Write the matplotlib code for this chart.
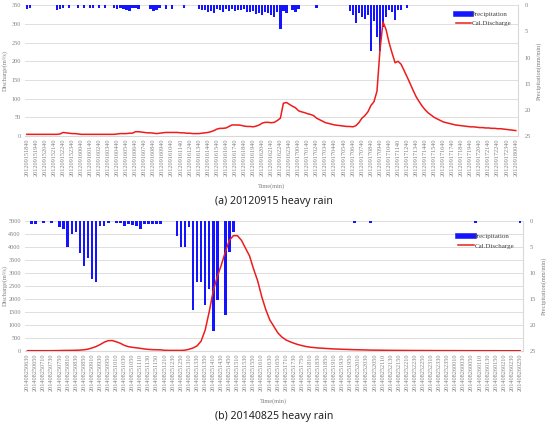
import matplotlib.pyplot as plt
from matplotlib.lines import Line2D
import numpy as np
import pandas as pd

# (a) 20120915 event, 20-min steps starting 2012-09-15 18:40
rain_a = [0.7, 0.5, 0, 0, 0, 0, 0, 0, 0, 0,
          1.0, 0.8, 0.5, 0, 0.6, 0, 0, 0.6, 0, 0.6,
          0, 0.6, 0.5, 0, 0.6, 0, 0.6, 0, 0, 0.6,
          0.7, 0.6, 0.7, 1.0, 1.1, 0.6, 0.6, 0.7, 0, 0,
          0, 0.7, 1.1, 0.9, 0.6, 0, 0.8, 0, 0.7, 0,
          0, 0, 0.6, 0, 0, 0, 0, 0.7, 0.9, 1.0,
          1.4, 1.2, 1.6, 0.8, 0.9, 1.3, 0.8, 1.1, 0.7, 1.2,
          0.9, 1.0, 0.8, 1.3, 1.4, 1.2, 1.7, 1.5, 1.9, 1.3,
          1.6, 1.8, 2.2, 1.4, 4.6, 1.2, 1.5, 0, 1.0, 1.3,
          0.8, 0, 0, 0, 0, 0, 0.5, 0, 0, 0,
          0, 0, 0, 0, 0, 0, 0, 1.2, 1.8, 3.5,
          1.5, 2.2, 2.6, 1.8, 8.7, 3.0, 6.1, 8.7, 4.2, 2.2,
          1.0, 1.3, 2.9, 1.0, 0.9, 0, 0.6, 0, 0, 0,
          0, 0, 0, 0, 0, 0, 0, 0, 0, 0,
          0, 0, 0, 0, 0, 0, 0, 0, 0, 0,
          0, 0, 0, 0, 0, 0, 0, 0, 0, 0,
          0, 0, 0]
flow_a = [5, 5, 5, 5, 5, 5, 5, 5, 5, 5, 5, 6,
          10, 9, 8, 7, 7, 6, 5, 5, 5, 5, 5, 5,
          5, 5, 5, 5, 5, 5, 6, 7, 7, 7, 8, 8,
          12, 12, 11, 10, 9, 9, 8, 7, 8, 9, 10, 10,
          10, 10, 10, 9, 9, 8, 8, 7, 7, 7, 8, 9,
          10, 12, 15, 19, 21, 21, 22, 26, 30, 30, 30, 29,
          27, 26, 26, 25, 27, 30, 35, 37, 37, 36, 37, 42,
          48, 88, 90, 85, 80, 76, 68, 65, 63, 60, 58, 55,
          48, 44, 40, 36, 34, 32, 30, 29, 28, 27, 26, 26,
          25, 28, 36, 48, 55, 65, 82, 92, 120, 230, 305, 285,
          250, 222, 196, 200, 192, 175, 158, 140, 122, 105, 92, 80,
          70, 62, 56, 50, 46, 42, 38, 36, 34, 32, 30, 29,
          28, 27, 26, 25, 25, 24, 23, 23, 22, 22, 21, 21,
          20, 20, 19, 18, 17, 16, 15]
ticks_a = pd.date_range('2012-09-15 18:40', '2012-09-18 00:40', freq='60min').strftime('%Y%m%d%H%M')

# (b) 20140825 event, 10-min steps starting 2014-08-25 06:30
rain_b = [0, 0.6, 0.6, 0, 0.5, 0, 0.5, 0, 1.1, 1.5,
          5.1, 2.6, 2.1, 6.1, 8.6, 7.1, 11.2, 11.7, 1.0, 1.0,
          0.5, 0, 0.5, 0.5, 1.0, 0.6, 0.9, 1.0, 1.5, 0.6,
          0.6, 0.6, 0.6, 0.6, 0, 0, 0, 3.0, 5.1, 5.1,
          1.1, 17.1, 11.7, 11.7, 16.2, 13.1, 21.2, 15.2, 0, 18.1,
          6.0, 2.1, 0, 0, 0, 0, 0, 0, 0, 0,
          0, 0, 0, 0, 0, 0, 0, 0, 0, 0,
          0, 0, 0, 0, 0, 0, 0, 0, 0, 0,
          0, 0.5, 0, 0, 0, 0.5, 0, 0, 0, 0,
          0, 0, 0, 0, 0, 0, 0, 0, 0, 0,
          0, 0, 0, 0, 0, 0, 0, 0, 0, 0,
          0, 0.5, 0, 0, 0, 0, 0, 0, 0, 0,
          0, 0, 0.5]
flow_b = [15, 15, 15, 15, 15, 15, 15, 18, 20, 25,
          25, 28, 32, 38, 50, 75, 120, 175, 250, 340,
          400, 405, 358, 300, 220, 170, 145, 125, 105, 80,
          65, 55, 51, 48, 30, 26, 26, 26, 26, 35,
          70, 120, 200, 380, 800, 1500, 2300, 2850, 3300, 3800,
          4250, 4430, 4430, 4250, 3950, 3650, 3150, 2700, 2100, 1600,
          1200, 950, 700, 540, 430, 360, 300, 250, 210, 175,
          150, 135, 120, 110, 100, 90, 82, 76, 70, 64,
          58, 54, 50, 46, 42, 38, 36, 34, 32, 30,
          28, 27, 26, 25, 24, 23, 22, 22, 21, 20,
          20, 19, 19, 18, 18, 17, 17, 16, 16, 16,
          15, 15, 15, 14, 14, 14, 14, 13, 13, 13,
          13, 13, 13]
ticks_b = pd.date_range('2014-08-25 06:30', '2014-08-26 02:50', freq='20min').strftime('%Y%m%d%H%M')

BLUE = '#1414ff'
RED = '#ee1c1c'
GRAY = '#808080'
LIGHT = '#d9d9d9'
SERIF = 'Liberation Serif'

fig = plt.figure(figsize=(5.48, 4.23), dpi=100)


def panel(rect, step, tick_every, rain, flow, ticks, ymax, ystep, bar_w, legend_xy):
    ax = fig.add_axes(rect)
    axr = ax.twinx()
    t = np.arange(len(flow)) * step
    axr.bar(t, rain, width=bar_w, color=BLUE, zorder=2)
    axr.plot(t, flow, color=RED, lw=1.1, zorder=3, transform=ax.transData)

    ax.set_xlim(-step * 0.6, t[-1] + step * 0.6)
    ax.set_ylim(0, ymax)
    ax.set_yticks(np.arange(0, ymax + 1, ystep))
    axr.set_ylim(25, 0)
    axr.set_yticks([0, 5, 10, 15, 20, 25])
    ax.set_xticks(np.arange(len(ticks)) * tick_every)
    ax.set_xticklabels(ticks, rotation=90)

    ax.grid(True, axis='y', color=LIGHT, lw=0.6)
    ax.set_axisbelow(True)
    for s in ['top', 'left', 'right']:
        ax.spines[s].set_visible(False)
        axr.spines[s].set_visible(False)
    ax.spines['bottom'].set_color(LIGHT)
    axr.spines['bottom'].set_visible(False)
    axr.spines['right'].set_visible(True)
    axr.spines['right'].set_color(LIGHT)

    ax.tick_params(axis='x', length=0, pad=2, labelsize=4.5, labelcolor=GRAY)
    ax.tick_params(axis='y', length=0, pad=3, labelsize=4.5, labelcolor=GRAY)
    axr.tick_params(axis='y', length=0, pad=5, labelsize=4.6, labelcolor=GRAY)
    for lab in ax.get_xticklabels() + ax.get_yticklabels() + axr.get_yticklabels():
        lab.set_family(SERIF)

    ax.set_ylabel('Discharge(m\u00b3/s)', fontsize=4.6, color=GRAY, family=SERIF)
    ax.yaxis.set_label_coords(-0.034, 0.5)
    axr.set_ylabel('Precipitation(mm/min)', fontsize=4.6, color=GRAY, family=SERIF, labelpad=4)
    ax.set_xlabel('Time(min)', fontsize=4.6, color=GRAY, family=SERIF, labelpad=5)

    handles = [Line2D([], [], color=BLUE, lw=4), Line2D([], [], color=RED, lw=1.1)]
    fig.legend(handles, ['Precipitation', 'Cal.Discharge'], loc='upper left',
               bbox_to_anchor=legend_xy, frameon=False, handlelength=2.2,
               handletextpad=0.1, labelspacing=0.5, borderpad=0,
               prop={'family': SERIF, 'size': 5}, labelcolor='#404040')
    return ax


panel([0.0456, 0.678, 0.899, 0.310], 20, 60, rain_a, flow_a, ticks_a, 350, 50, 15,
      (0.826, 0.982))
panel([0.0456, 0.170, 0.908, 0.308], 10, 20, rain_b, flow_b, ticks_b, 5000, 500, 6.5,
      (0.830, 0.456))

fig.text(0.5, 1 - 201 / 423, '(a) 20120915 heavy rain', ha='center', va='center',
         fontsize=7.6, family='Noto Sans', color='#222222')
fig.text(0.5, 1 - 416 / 423, '(b) 20140825 heavy rain', ha='center', va='center',
         fontsize=7.6, family='Noto Sans', color='#222222')

fig.savefig('out.png', dpi=100)
